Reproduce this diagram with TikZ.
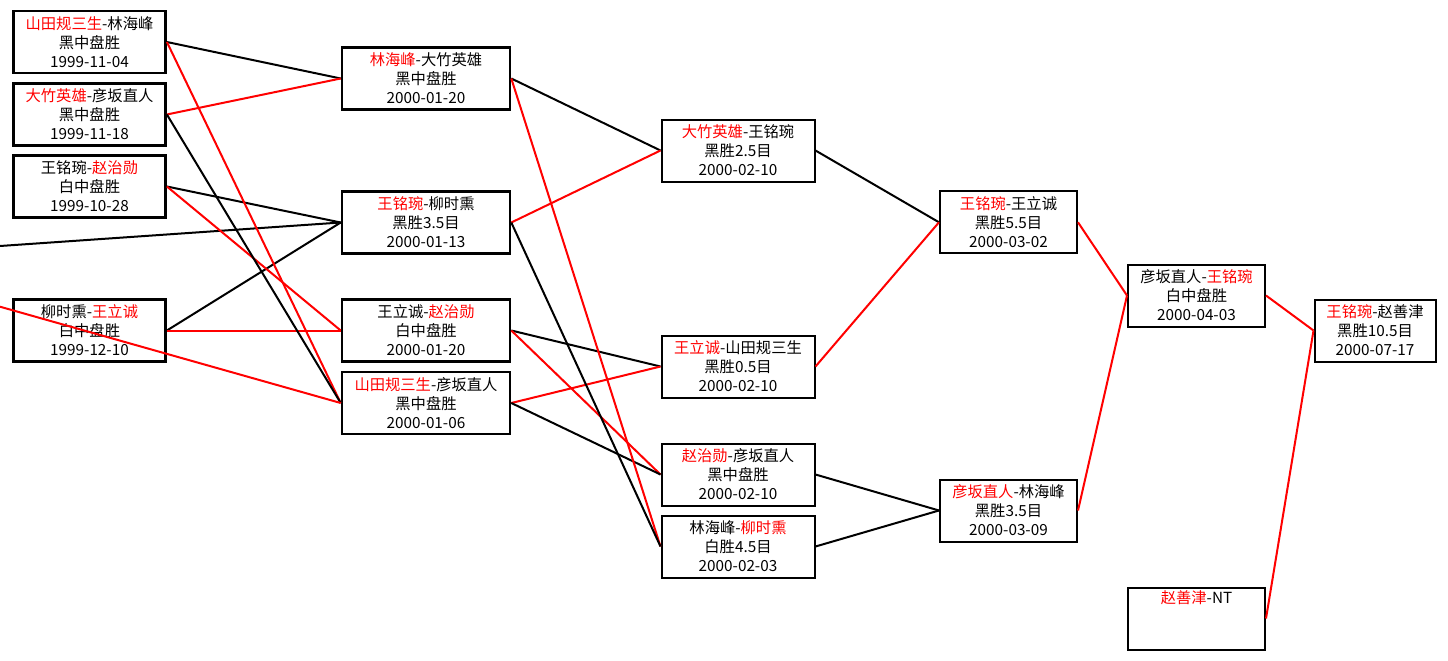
\documentclass[tikz,border=0pt]{standalone}
\usepackage{fontspec}
\newfontfamily\cjk{Noto Sans CJK SC}
\newcommand\rn[1]{\textcolor{red}{#1}}
\tikzset{
  box/.style={draw=black, line width=2pt, minimum height=62pt, inner sep=0pt, align=center,
    font=\cjk\fontsize{15.3}{19}\selectfont, text=black},
  colA/.style={box, minimum width=152pt, line width=2.8pt},
  colB/.style={box, minimum width=168pt, line width=2.6pt},
  colC/.style={box, minimum width=153pt},
  colD/.style={box, minimum width=137pt},
  colE/.style={box, minimum width=137pt},
  colF/.style={box, minimum width=121pt},
  bl/.style={draw=black, line width=2pt},
  rl/.style={draw=red, line width=2pt}
}
\begin{document}
\begin{tikzpicture}[x=1pt,y=-1pt]
\useasboundingbox (0,0) rectangle (1448,661);
% column 1
\node[colA] (A1) at (89.5,42)    {\rn{山田规三生}-林海峰\\黑中盘胜\\1999-11-04};
\node[colA] (A2) at (89.5,114.5) {\rn{大竹英雄}-彦坂直人\\黑中盘胜\\1999-11-18};
\node[colA] (A3) at (89.5,186.5) {王铭琬-\rn{赵治勋}\\白中盘胜\\1999-10-28};
\node[colA] (A4) at (89.5,330.5) {柳时熏-\rn{王立诚}\\白中盘胜\\1999-12-10};
% column 2
\node[colB] (B1) at (426,78.5)  {\rn{林海峰}-大竹英雄\\黑中盘胜\\2000-01-20};
\node[colB] (B2) at (426,222.5) {\rn{王铭琬}-柳时熏\\黑胜3.5目\\2000-01-13};
\node[colB] (B3) at (426,330.5) {王立诚-\rn{赵治勋}\\白中盘胜\\2000-01-20};
\node[colB] (B4) at (426,403)   {\rn{山田规三生}-彦坂直人\\黑中盘胜\\2000-01-06};
% column 3
\node[colC] (C1) at (738,150.5) {\rn{大竹英雄}-王铭琬\\黑胜2.5目\\2000-02-10};
\node[colC] (C2) at (738,366.5) {\rn{王立诚}-山田规三生\\黑胜0.5目\\2000-02-10};
\node[colC] (C3) at (738,474.5) {\rn{赵治勋}-彦坂直人\\黑中盘胜\\2000-02-10};
\node[colC] (C4) at (738,546.5) {林海峰-\rn{柳时熏}\\白胜4.5目\\2000-02-03};
% column 4
\node[colD] (D1) at (1008.5,222.3) {\rn{王铭琬}-王立诚\\黑胜5.5目\\2000-03-02};
\node[colD] (D2) at (1008.5,510.5) {\rn{彦坂直人}-林海峰\\黑胜3.5目\\2000-03-09};
% column 5
\node[colE] (E1) at (1196.5,295.5) {彦坂直人-\rn{王铭琬}\\白中盘胜\\2000-04-03};
\node[colE] (E2) at (1196.5,618.5) {\rn{赵善津}-NT\\\strut\\\strut};
% column 6
\node[colF] (F1) at (1375,330.5) {\rn{王铭琬}-赵善津\\黑胜10.5目\\2000-07-17};
% free ends at the left edge
\coordinate (L1) at (0,246);
\coordinate (L2) at (0,306.7);
% connectors
\draw[bl] (A1.east) -- (B1.west);
\draw[rl] (A2.east) -- (B1.west);
\draw[bl] (A3.east) -- (B2.west);
\draw[bl] (L1) -- (B2.west);
\draw[bl] (A4.east) -- (B2.west);
\draw[rl] (A3.east) -- (B3.west);
\draw[rl] (A4.east) -- (B3.west);
\draw[rl] (A1.east) -- (B4.west);
\draw[bl] (A2.east) -- (B4.west);
\draw[rl] (L2) -- (B4.west);
\draw[bl] (B1.east) -- (C1.west);
\draw[rl] (B2.east) -- (C1.west);
\draw[bl] (B3.east) -- (C2.west);
\draw[rl] (B4.east) -- (C2.west);
\draw[rl] (B3.east) -- (C3.west);
\draw[bl] (B4.east) -- (C3.west);
\draw[rl] (B1.east) -- (C4.west);
\draw[bl] (B2.east) -- (C4.west);
\draw[bl] (C1.east) -- (D1.west);
\draw[rl] (C2.east) -- (D1.west);
\draw[bl] (C3.east) -- (D2.west);
\draw[bl] (C4.east) -- (D2.west);
\draw[rl] (D1.east) -- (E1.west);
\draw[rl] (D2.east) -- (E1.west);
\draw[rl] (E1.east) -- (F1.west);
\draw[rl] (E2.east) -- (F1.west);
\end{tikzpicture}
\end{document}
